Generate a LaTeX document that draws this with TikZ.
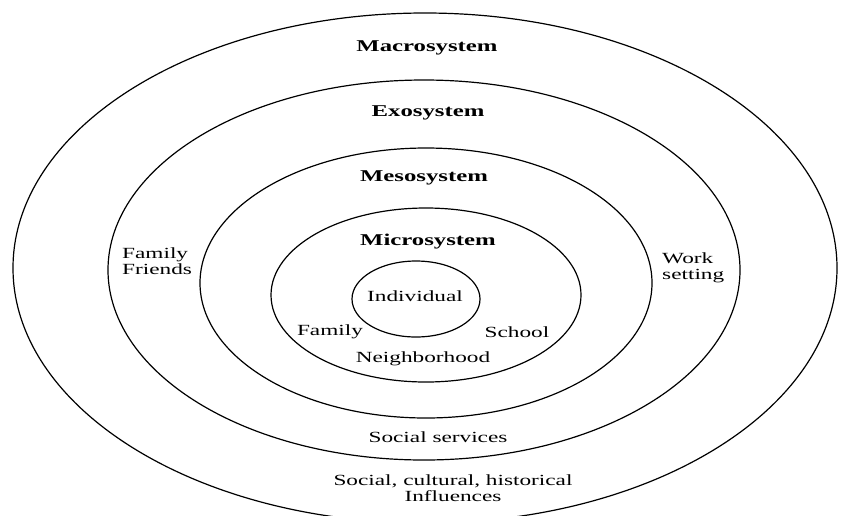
\documentclass[tikz,border=0pt]{standalone}
\usepackage{fontspec}
\setmainfont{Liberation Serif}[FakeStretch=1.5]
\begin{document}
\begin{tikzpicture}[x=1pt,y=-1pt,
  ring/.style={line width=1.2pt},
  lbl/.style={font=\fontsize{15.5}{16.5}\selectfont, inner sep=0pt},
  ttl/.style={font=\fontsize{16.5}{18}\selectfont\bfseries, inner sep=0pt}]
\useasboundingbox (0,0) rectangle (845,515);
\clip (0,0) rectangle (845,515);
% rings
\draw[ring] (425,268) ellipse [x radius=412, y radius=255];
\draw[ring] (424,270) ellipse [x radius=316, y radius=190];
\draw[ring] (426,283) ellipse [x radius=226, y radius=135];
\draw[ring] (426,295) ellipse [x radius=155, y radius=87];
\draw[ring] (416,299) ellipse [x radius=64, y radius=38];
% titles
\node[ttl] (macro) at (427,48) {Macrosystem};
\node[ttl] (exo) at (428,113) {Exosystem};
\node[ttl] (meso) at (424,178) {Mesosystem};
\node[ttl] (micro) at (428,242) {Microsystem};
% labels
\node[lbl] (indiv) at (415,296) {Individual};
\node[lbl] (family) at (330,332) {Family};
\node[lbl] (school) at (517,332) {School};
\node[lbl] (neigh) at (423,359) {Neighborhood};
\node[lbl, anchor=west, align=left] (ff) at (122,261) {Family\\Friends};
\node[lbl, anchor=west, align=left] (work) at (662,268) {Work\\setting};
\node[lbl] (social) at (438,437) {Social services};
\node[lbl, align=center] (influ) at (453,488) {Social, cultural, historical\\Influences};
\end{tikzpicture}
\end{document}
